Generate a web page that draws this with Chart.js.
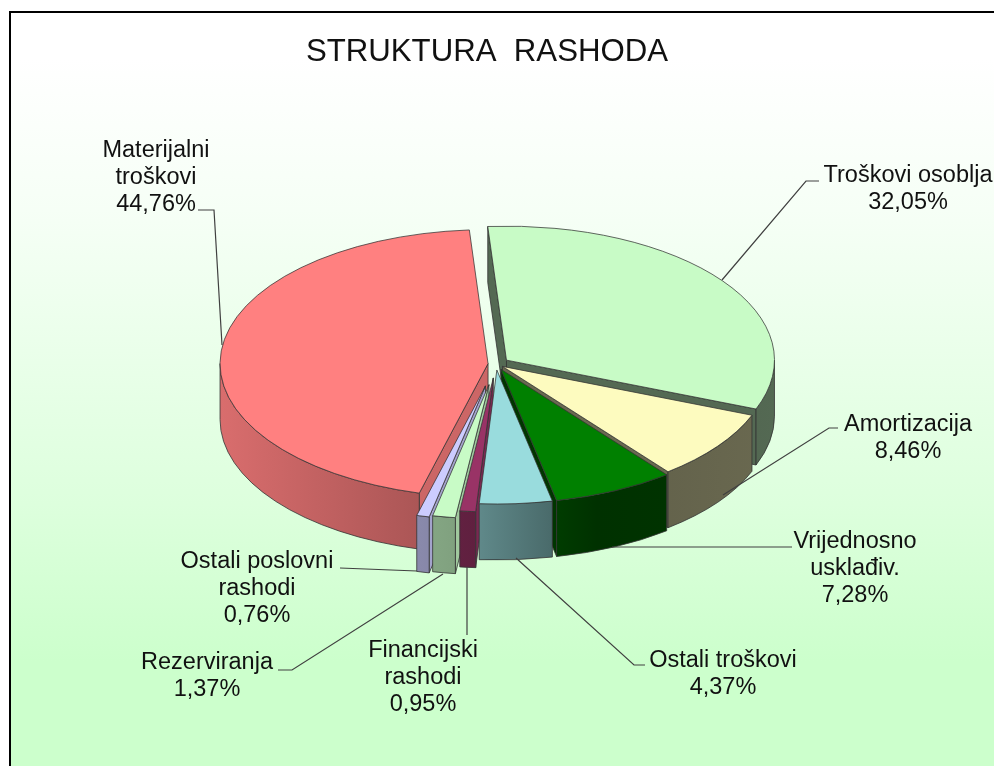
<!DOCTYPE html>
<html>
<head>
<meta charset="utf-8">
<title>Struktura rashoda</title>
<script src="https://cdn.jsdelivr.net/npm/chart.js@4"></script>
<style>
    html, body { margin: 0; padding: 0; background: #fff; overflow: hidden; }
    #frame {
        position: absolute; left: 9px; top: 11px; width: 985px; height: 755px;
        border-left: 2px solid #000; border-top: 2px solid #000;
        background: linear-gradient(to bottom, #fff 0%, #fff 6%, #f6fff6 26%, #ddffdd 65%, #ccffcc 86%, #ccffcc 100%);
    }
    #chart { position: absolute; left: 0; top: 0; }
</style>
</head>
<body>
<div id="frame"></div>
<canvas id="chart" width="994" height="766"></canvas>
<script>
const categories = ['Troškovi osoblja', 'Amortizacija', 'Vrijednosno usklađiv.', 'Ostali troškovi',
    'Financijski rashodi', 'Rezerviranja', 'Ostali poslovni rashodi', 'Materijalni troškovi'];
const values = [32.05, 8.46, 7.28, 4.37, 0.95, 1.37, 0.76, 44.76];
const sliceColors = ['#c8fbc6', '#fdfbbf', '#008000', '#99dcdd', '#993366', '#c8fbc6', '#ccccff', '#ff8080'];
// explosion of each slice, the library moves a slice by a quarter of this
const sliceOffsets = [52, 32, 48, 48, 112, 168, 180, 32];

// label layout: text lines, centre x, first baseline, leader line
const labelLayout = [
    { lines: ['Troškovi osoblja', '32,05%'], x: 908, y: 182, leader: [[819, 181], [806, 181], [722, 280]] },
    { lines: ['Amortizacija', '8,46%'], x: 908, y: 431, leader: [[838, 428], [829, 428], [723, 495]] },
    { lines: ['Vrijednosno', 'usklađiv.', '7,28%'], x: 855, y: 548, leader: [[792, 547], [612, 547]] },
    { lines: ['Ostali troškovi', '4,37%'], x: 723, y: 667, leader: [[645, 665], [634, 665], [516, 558]] },
    { lines: ['Financijski', 'rashodi', '0,95%'], x: 423, y: 657, leader: [[467, 635], [467, 567]] },
    { lines: ['Rezerviranja', '1,37%'], x: 207, y: 669, leader: [[278, 670], [292, 670], [443, 574]] },
    { lines: ['Ostali poslovni', 'rashodi', '0,76%'], x: 257, y: 568, leader: [[340, 568], [417, 571]] },
    { lines: ['Materijalni', 'troškovi', '44,76%'], x: 156, y: 157, leader: [[198, 210], [214, 210], [222, 345]] }
];

const pieX = 496, pieY = 364, pieR = 268, squash = 0.5, depth = 56;

// wall shade darkens from left to right, like the light in the original
const shadeStops = [[0, 0.85], [0.36, 0.67], [0.47, 0.62], [0.6, 0.48], [0.68, 0.38], [1, 0.42]];

function shade(hex, f) {
    const n = parseInt(hex.slice(1), 16);
    return 'rgb(' + Math.round((n >> 16) * f) + ',' + Math.round(((n >> 8) & 255) * f) + ',' + Math.round((n & 255) * f) + ')';
}

const pie3d = {
    id: 'pie3d',
    beforeDatasetDraw(chart) {
        const ctx = chart.ctx;
        const arcs = chart.getDatasetMeta(0).data;

        const slices = arcs.map((a, i) => {
            const off = a.options.offset / 4;
            const circ = a.circumference;
            const mid = (a.startAngle + a.endAngle) / 2;
            // the arc element grows the radius and trims the angle when offset, take that out again
            const grow = off * (1 - Math.sin(Math.min(Math.PI, circ)));
            const trim = grow / Math.PI / pieR / 2;
            a.outerRadius = pieR - grow;
            a.startAngle = mid - circ / 2 - trim;
            a.endAngle = mid + circ / 2 + trim;
            return {
                t0: mid - circ / 2, t1: mid + circ / 2, mid: mid, color: sliceColors[i],
                x: pieX + Math.cos(mid) * off,
                y: pieY + Math.sin(mid) * off * squash
            };
        });

        const wallFill = (color) => {
            const g = ctx.createLinearGradient(220, 0, 775, 0);
            shadeStops.forEach(s => g.addColorStop(s[0], shade(color, s[1])));
            return g;
        };
        const rimPt = (s, t) => [s.x + Math.cos(t) * pieR, s.y + Math.sin(t) * pieR * squash];
        const face = (s, t, fill) => {
            const p = rimPt(s, t);
            ctx.beginPath();
            ctx.moveTo(s.x, s.y);
            ctx.lineTo(p[0], p[1]);
            ctx.lineTo(p[0], p[1] + depth);
            ctx.lineTo(s.x, s.y + depth);
            ctx.closePath();
            ctx.fillStyle = fill;
            ctx.fill();
            ctx.stroke();
        };

        ctx.save();
        ctx.strokeStyle = '#333';
        ctx.lineWidth = 0.8;
        ctx.lineJoin = 'round';
        // painter's order: the slice facing the viewer goes last
        const front = (s) => Math.abs(s.mid - Math.PI / 2);
        slices.slice().sort((a, b) => front(b) - front(a)).forEach(s => {
            if (Math.cos(s.t1) > 0) face(s, s.t1, shade(s.color, 0.42));
            if (-Math.cos(s.t0) > 0) face(s, s.t0, shade(s.color, s.x > pieX ? 0.42 : 0.8));
            const from = Math.max(s.t0, 0), to = Math.min(s.t1, Math.PI);
            if (to > from) {
                ctx.beginPath();
                ctx.ellipse(s.x, s.y, pieR, pieR * squash, 0, from, to);
                ctx.ellipse(s.x, s.y + depth, pieR, pieR * squash, 0, to, from, true);
                ctx.closePath();
                ctx.fillStyle = wallFill(s.color);
                ctx.fill();
                ctx.stroke();
            }
        });
        ctx.restore();

        // top faces are drawn by the library, flattened to an ellipse
        const a0 = arcs[0];
        ctx.save();
        ctx.translate(pieX, pieY);
        ctx.scale(1, squash);
        ctx.translate(-a0.x, -a0.y);
    },
    afterDatasetDraw(chart) {
        chart.ctx.restore();
    },
    afterDraw(chart) {
        const ctx = chart.ctx;
        ctx.save();
        ctx.strokeStyle = '#404040';
        ctx.lineWidth = 1.2;
        labelLayout.forEach(l => {
            ctx.beginPath();
            l.leader.forEach((p, i) => i ? ctx.lineTo(p[0], p[1]) : ctx.moveTo(p[0], p[1]));
            ctx.stroke();
        });
        ctx.fillStyle = '#111';
        ctx.font = '23.5px "Liberation Sans"';
        ctx.textAlign = 'center';
        ctx.textBaseline = 'alphabetic';
        labelLayout.forEach(l => {
            l.lines.forEach((t, i) => ctx.fillText(t, l.x, l.y + i * 27));
        });
        ctx.restore();
    }
};

new Chart(document.getElementById('chart'), {
    type: 'pie',
    data: {
        labels: categories,
        datasets: [{
            data: values,
            backgroundColor: sliceColors,
            borderColor: '#333',
            borderWidth: 1,
            offset: sliceOffsets,
            clip: false
        }]
    },
    plugins: [pie3d],
    options: {
        responsive: false,
        animation: false,
        rotation: -4,
        radius: pieR,
        events: [],
        layout: { padding: { right: 20 } },
        plugins: {
            legend: { display: false },
            tooltip: { enabled: false },
            title: {
                display: true,
                text: 'STRUKTURA  RASHODA',
                color: '#111',
                fullSize: false,
                font: { family: '"Liberation Sans"', size: 31.2, weight: 'normal' },
                padding: { top: 34, bottom: 10 }
            }
        }
    }
});
</script>
</body>
</html>
